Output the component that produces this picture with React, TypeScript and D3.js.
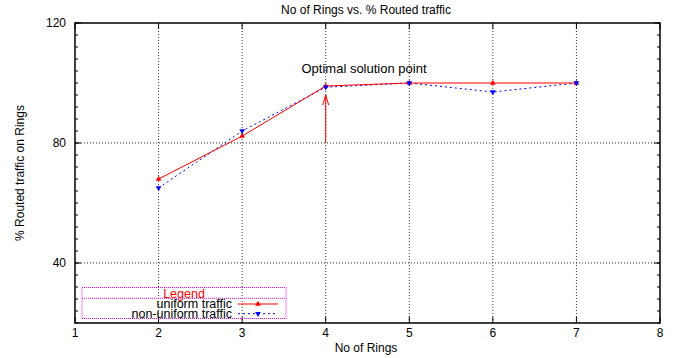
import React from 'react';
import * as d3 from 'd3';

const rings = [2, 3, 4, 5, 6, 7];
const uniform = [68, 82.3, 99, 100, 100, 100];
const nonUniform = [65, 84, 98.6, 100, 97, 100];
const xTicks = [1, 2, 3, 4, 5, 6, 7, 8];
const yTicks = [40, 80, 120];
const arrowFrom = 80;
const arrowTo = 96;

const W = 683;
const H = 358;
const m = { left: 75, right: 23, top: 23, bottom: 35 };
const font = '"Liberation Sans", Arial, sans-serif';

export default function App() {
  const x = d3.scaleLinear().domain([1, 8]).range([m.left, W - m.right]);
  const y = d3.scaleLinear().domain([20, 120]).range([H - m.bottom, m.top]);
  const line = d3.line<number>().x((_, i) => x(rings[i])).y(d => y(d));
  const minor = d3.range(20, 121, 4);
  const tri = d3.symbol().type(d3.symbolTriangle).size(14)();

  const x0 = x(1), x1 = x(8), y0 = y(20), y1 = y(120);

  return (
    <svg width={W} height={H} style={{ position: 'absolute', left: 0, top: 0, background: '#fff' }} fontFamily={font}>
      <rect width={W} height={H} fill="#fff" />
      {/* grid */}
      {xTicks.slice(1, -1).map(t => (
        <line key={'gx' + t} x1={x(t)} x2={x(t)} y1={y0} y2={y1} stroke="#000" strokeWidth={0.8} strokeDasharray="1,2" />
      ))}
      {yTicks.slice(0, -1).map(t => (
        <line key={'gy' + t} x1={x0} x2={x1} y1={y(t)} y2={y(t)} stroke="#000" strokeWidth={0.8} strokeDasharray="1,2" />
      ))}
      {/* ticks */}
      {minor.map(t => (
        <g key={'mt' + t}>
          <line x1={x0} x2={x0 + 3} y1={y(t)} y2={y(t)} stroke="#000" />
          <line x1={x1} x2={x1 - 3} y1={y(t)} y2={y(t)} stroke="#000" />
        </g>
      ))}
      {yTicks.map(t => (
        <g key={'yt' + t}>
          <line x1={x0} x2={x0 + 6} y1={y(t)} y2={y(t)} stroke="#000" />
          <line x1={x1} x2={x1 - 6} y1={y(t)} y2={y(t)} stroke="#000" />
          <text x={x0 - 9} y={y(t)} dy="0.35em" textAnchor="end" fontSize={12}>{t}</text>
        </g>
      ))}
      {xTicks.map(t => (
        <g key={'xt' + t}>
          <line x1={x(t)} x2={x(t)} y1={y0} y2={y0 - 6} stroke="#000" />
          <line x1={x(t)} x2={x(t)} y1={y1} y2={y1 + 6} stroke="#000" />
          <text x={x(t)} y={y0 + 14} textAnchor="middle" fontSize={12}>{t}</text>
        </g>
      ))}
      <rect x={x0} y={y1} width={x1 - x0} height={y0 - y1} fill="none" stroke="#000" strokeWidth={1.5} />

      {/* series */}
      <path d={line(nonUniform) ?? ''} fill="none" stroke="#0000ff" strokeWidth={1} strokeDasharray="2,3" />
      <path d={line(uniform) ?? ''} fill="none" stroke="#ff0000" strokeWidth={1} />
      {uniform.map((v, i) => (
        <path key={'u' + i} d={tri ?? ''} transform={`translate(${x(rings[i])},${y(v)})`} fill="#ff0000" />
      ))}
      {nonUniform.map((v, i) => (
        <path key={'n' + i} d={tri ?? ''} transform={`translate(${x(rings[i])},${y(v)}) rotate(180)`} fill="#0000ff" />
      ))}

      {/* arrow annotation */}
      <line x1={x(4)} x2={x(4)} y1={y(arrowFrom)} y2={y(arrowTo)} stroke="#ff0000" />
      <path d={`M${x(4) - 3},${y(arrowTo) + 10} L${x(4)},${y(arrowTo)} L${x(4) + 3},${y(arrowTo) + 10}`} fill="none" stroke="#ff0000" />
      <text x={364} y={72.5} textAnchor="middle" fontSize={13}>Optimal solution point</text>

      {/* legend */}
      <g>
        <rect x={82} y={287.5} width={204} height={31} fill="none" stroke="#ff00ff" strokeDasharray="1,1" />
        <line x1={82} x2={286} y1={298.3} y2={298.3} stroke="#ff00ff" strokeDasharray="1,1" />
        <text x={184} y={297.5} textAnchor="middle" fontSize={12.5} fill="#ff0000">Legend</text>
        <text x={232} y={308} textAnchor="end" fontSize={12.5}>uniform traffic</text>
        <line x1={238} x2={278} y1={304} y2={304} stroke="#ff0000" />
        <path d={tri ?? ''} transform="translate(258,304)" fill="#ff0000" />
        <text x={232} y={317.5} textAnchor="end" fontSize={12.5}>non-uniform traffic</text>
        <line x1={238} x2={278} y1={313.7} y2={313.7} stroke="#0000ff" strokeDasharray="2,3" />
        <path d={tri ?? ''} transform="translate(258,313.7) rotate(180)" fill="#0000ff" />
      </g>

      {/* titles */}
      <text x={366} y={14} textAnchor="middle" fontSize={12}>No of Rings vs. % Routed traffic</text>
      <text x={366} y={352} textAnchor="middle" fontSize={12}>No of Rings</text>
      <text transform={`translate(24,${(y0 + y1) / 2}) rotate(-90)`} textAnchor="middle" fontSize={12}>% Routed traffic on Rings</text>
    </svg>
  );
}
